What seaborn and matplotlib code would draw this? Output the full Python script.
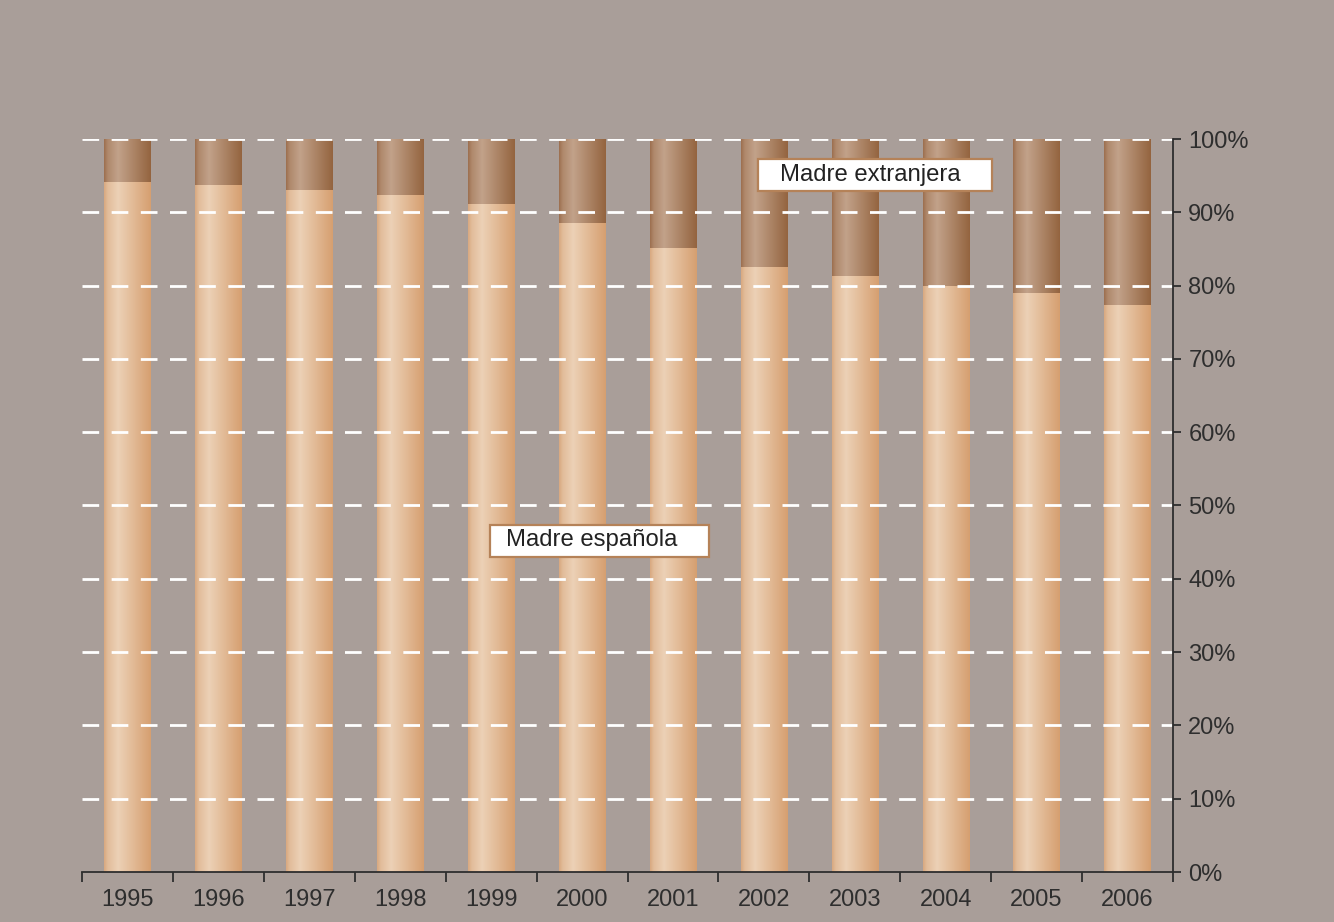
import numpy as np
import pandas as pd
import matplotlib
matplotlib.use("Agg")
import matplotlib.pyplot as plt
from matplotlib.patches import Rectangle
from matplotlib.colors import to_rgb
import seaborn as sns

years = ['1995', '1996', '1997', '1998', '1999', '2000',
         '2001', '2002', '2003', '2004', '2005', '2006']
madre_espanola = [94.1, 93.7, 93.0, 92.3, 91.1, 88.6, 85.1, 82.6, 81.3, 79.9, 79.0, 77.3]
madre_extranjera = [round(100 - v, 1) for v in madre_espanola]
y_ticks = [0, 10, 20, 30, 40, 50, 60, 70, 80, 90, 100]
y_tick_labels = [f"{t}%" for t in y_ticks]

df = pd.DataFrame({
    'year': years,
    'espanola': madre_espanola,
    'total': [e + x for e, x in zip(madre_espanola, madre_extranjera)],
})

sns.set_theme(style="white")
plt.rcParams['font.family'] = ['Liberation Sans', 'DejaVu Sans']

BG = '#a99e99'
fig = plt.figure(figsize=(13.34, 9.22), dpi=100, facecolor=BG)
ax = fig.add_axes([82 / 1334, 50 / 922, (1173 - 82) / 1334, (872 - 139) / 922])
ax.set_facecolor('none')

FOREIGN = '#a87a58'
SPANISH = '#dfb48e'

sns.barplot(data=df, x='year', y='total', color=FOREIGN, width=0.51,
            saturation=1, ax=ax, zorder=2)
n_foreign = len(ax.patches)
sns.barplot(data=df, x='year', y='espanola', color=SPANISH, width=0.51,
            saturation=1, ax=ax, zorder=2)


def gradient_fill(ax, patch, dark_l, light, dark_r):
    x0, w = patch.get_x(), patch.get_width()
    y0, h = patch.get_y(), patch.get_height()
    t = np.linspace(0, 1, 200)
    stops = [0.0, 0.08, 0.3, 1.0]
    cl, cm, cr = np.array(to_rgb(dark_l)), np.array(to_rgb(light)), np.array(to_rgb(dark_r))
    cols = [cl, (cl + cm) / 2, cm, cr]
    arr = np.zeros((1, len(t), 3))
    for k in range(3):
        arr[0, :, k] = np.interp(t, stops, [c[k] for c in cols])
    im = ax.imshow(arr, extent=[x0, x0 + w, y0, y0 + h], aspect='auto',
                   origin='lower', zorder=2.5, interpolation='bilinear')
    im.set_clip_path(patch)
    patch.set_edgecolor('none')


for i, p in enumerate(ax.patches):
    if i < n_foreign:
        gradient_fill(ax, p, '#9c6f4e', '#c2a28a', '#94643f')
    else:
        gradient_fill(ax, p, '#d8a87f', '#ecd1b6', '#d69f70')

ax.set_xlim(-0.5, len(years) - 0.5)
ax.set_ylim(0, 100)

# dashed white grid lines over bars
for t in y_ticks[1:]:
    ax.axhline(t, color='white', lw=2, ls=(0, (6, 4.5)), zorder=3)

# axes / spines
for s in ['left', 'top']:
    ax.spines[s].set_visible(False)
for s in ['right', 'bottom']:
    ax.spines[s].set_color('#2e2e2e')
    ax.spines[s].set_linewidth(1.3)
    ax.spines[s].set_zorder(4)

ax.yaxis.tick_right()
ax.set_yticks(y_ticks)
ax.set_yticklabels(y_tick_labels)
ax.tick_params(axis='y', which='major', direction='out', length=6, width=1.3,
               color='#2e2e2e', labelsize=17, labelcolor='#2e2e2e', pad=5,
               right=True, left=False)

ax.set_xticks(range(len(years)))
ax.set_xticklabels(years)
ax.set_xticks(np.arange(-0.5, len(years), 1.0), minor=True)
ax.tick_params(axis='x', which='major', length=0, labelsize=17,
               labelcolor='#2e2e2e', pad=12)
ax.tick_params(axis='x', which='minor', direction='out', length=7, width=1.3,
               color='#2e2e2e', bottom=True)
ax.set_xlabel('')
ax.set_ylabel('')
ax.grid(False)

# label boxes
BOX_EDGE = '#b58258'
ax.add_patch(Rectangle((6.93, 92.9), 2.58, 4.4, facecolor='white',
                       edgecolor=BOX_EDGE, lw=1.6, zorder=5))
ax.text(7.18, 95.15, 'Madre extranjera', fontsize=17.2, color='#222222',
        ha='left', va='center', zorder=6)
ax.add_patch(Rectangle((3.99, 43.0), 2.41, 4.4, facecolor='white',
                       edgecolor=BOX_EDGE, lw=1.6, zorder=5))
ax.text(4.16, 45.25, 'Madre española', fontsize=17.2, color='#222222',
        ha='left', va='center', zorder=6)

fig.savefig('out.png', dpi=100, facecolor=BG)
